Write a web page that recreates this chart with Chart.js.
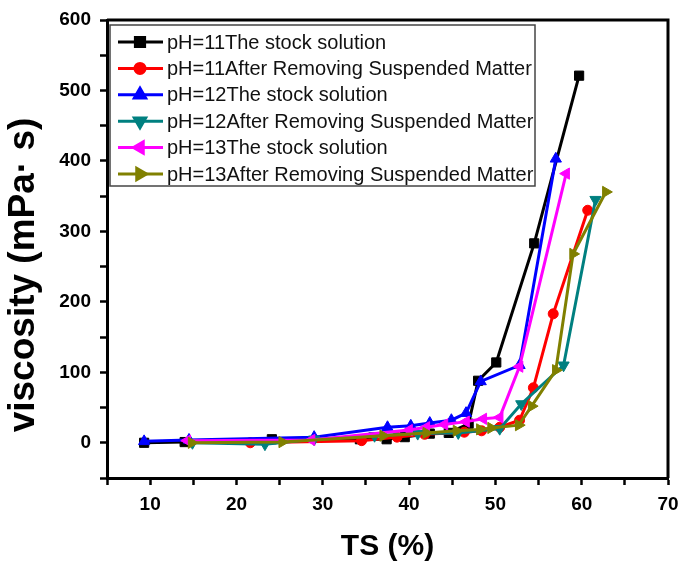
<!DOCTYPE html>
<html lang="en">
<head>
<meta charset="UTF-8">
<title>viscosity vs TS</title>
<script src="https://cdn.jsdelivr.net/npm/chart.js@4.4.9/dist/chart.umd.min.js"></script>
<style>
    body { margin: 0; background: #fff; }
    canvas { display: block; }
</style>
</head>
<body>
<canvas id="grafico" width="678" height="567"></canvas>
<script>
    // TS (%) and viscosity (mPa·s)
    var tsPh11Stock = [9.3, 14.0, 24.1, 34.3, 37.4, 39.5, 42.4, 44.6, 46.9, 48.0, 50.1, 54.5, 59.7]
    var viscPh11Stock = [0, 1, 5, 5, 5, 8, 13, 14, 27, 88, 114, 283, 521]

    var tsPh11Removed = [21.6, 34.5, 38.6, 41.8, 46.4, 48.4, 50.5, 52.8, 54.4, 56.7, 60.7]
    var viscPh11Removed = [0, 3, 8, 12, 15, 17, 22, 32, 78, 183, 330]

    var tsPh12Stock = [9.3, 14.5, 29.0, 37.5, 40.2, 42.4, 44.9, 46.6, 48.3, 52.8, 57.0]
    var viscPh12Stock = [2, 4, 8, 22, 24, 28, 32, 42, 87, 110, 403]

    var tsPh12Removed = [14.9, 23.3, 29.0, 36.0, 41.0, 45.7, 50.5, 53.0, 57.9, 61.6]
    var viscPh12Removed = [0, -2, 5, 10, 13, 14, 20, 55, 110, 345]

    var tsPh13Stock = [14.3, 28.7, 40.0, 42.0, 44.1, 46.6, 48.6, 50.5, 52.8, 58.2]
    var viscPh13Stock = [3, 4, 18, 22, 26, 30, 34, 36, 108, 382]

    var tsPh13Removed = [14.8, 25.3, 37.0, 42.0, 45.5, 48.2, 49.5, 52.7, 54.2, 57.0, 59.0, 62.8]
    var viscPh13Removed = [0, 1, 10, 14, 17, 19, 21, 25, 52, 103, 268, 356]

    var nomesSeries = [
        'pH=11The stock solution',
        'pH=11After Removing Suspended Matter',
        'pH=12The stock solution',
        'pH=12After Removing Suspended Matter',
        'pH=13The stock solution',
        'pH=13After Removing Suspended Matter'
    ]

    var xTicks = [10, 20, 30, 40, 50, 60, 70]
    var yTicks = [0, 100, 200, 300, 400, 500, 600]

    var fonte = 'Arial, "Liberation Sans", sans-serif'

    function juntar(xs, ys) {
        var pontos = []
        for (var i = 0; i < xs.length; i++) {
            pontos.push({ x: xs[i], y: ys[i] })
        }
        return pontos
    }

    function serie(nome, xs, ys, cor, estilo, rotacao, raio, ordem) {
        return {
            label: nome,
            data: juntar(xs, ys),
            borderColor: cor,
            backgroundColor: cor,
            borderWidth: 3,
            pointStyle: estilo,
            pointRotation: rotacao,
            pointRadius: raio,
            pointBorderWidth: 1,
            tension: 0,
            fill: false,
            order: ordem
        }
    }

    // legend drawn inside the plot, like the original
    const legendaInterna = {
        id: 'legendaInterna',
        afterDraw(chart) {
            const ctx = chart.ctx
            const area = chart.chartArea
            const x0 = area.left + 3
            const y0 = area.top + 5
            ctx.save()
            ctx.fillStyle = '#fff'
            ctx.fillRect(x0, y0, 425, 161)
            ctx.strokeStyle = '#444'
            ctx.lineWidth = 1.5
            ctx.strokeRect(x0, y0, 425, 161)
            chart.data.datasets.forEach(function (ds, i) {
                const y = y0 + 17 + i * 26.4
                ctx.strokeStyle = ds.borderColor
                ctx.lineWidth = 3
                ctx.beginPath()
                ctx.moveTo(x0 + 8, y)
                ctx.lineTo(x0 + 53, y)
                ctx.stroke()
                ctx.fillStyle = ds.backgroundColor
                Chart.helpers.drawPoint(ctx, {
                    pointStyle: ds.pointStyle,
                    rotation: ds.pointRotation,
                    radius: ds.pointRadius,
                    borderWidth: 1
                }, x0 + 30, y)
                ctx.fillStyle = '#111'
                ctx.font = '20px ' + fonte
                ctx.textBaseline = 'middle'
                ctx.textAlign = 'left'
                ctx.fillText(ds.label, x0 + 57, y + 1)
            })
            ctx.restore()
        }
    }

    // top and right frame lines plus the y title
    const moldura = {
        id: 'moldura',
        afterDraw(chart) {
            const ctx = chart.ctx
            const area = chart.chartArea
            ctx.save()
            ctx.strokeStyle = '#000'
            ctx.lineWidth = 3
            ctx.beginPath()
            ctx.moveTo(area.left, area.top)
            ctx.lineTo(area.right, area.top)
            ctx.lineTo(area.right, area.bottom)
            ctx.stroke()

            ctx.translate(area.left - 83, (area.top + area.bottom) / 2 + 26)
            ctx.rotate(-Math.PI / 2)
            ctx.fillStyle = '#000'
            ctx.font = 'bold 37px ' + fonte
            ctx.textAlign = 'center'
            ctx.textBaseline = 'middle'
            ctx.fillText('viscosity (mPa· s)', 0, 0)
            ctx.restore()
        }
    }

    const dados = {
        datasets: [
            serie(nomesSeries[0], tsPh11Stock, viscPh11Stock, '#000000', 'rect', 0, 6.5, 6),
            serie(nomesSeries[1], tsPh11Removed, viscPh11Removed, '#ff0000', 'circle', 0, 5, 5),
            serie(nomesSeries[2], tsPh12Stock, viscPh12Stock, '#0000ff', 'triangle', 0, 6.5, 4),
            serie(nomesSeries[3], tsPh12Removed, viscPh12Removed, '#008080', 'triangle', 180, 6.5, 3),
            serie(nomesSeries[4], tsPh13Stock, viscPh13Stock, '#ff00ff', 'triangle', 270, 6.5, 2),
            serie(nomesSeries[5], tsPh13Removed, viscPh13Removed, '#808000', 'triangle', 90, 6.5, 1)
        ]
    }

    const config = {
        type: 'line',
        data: dados,
        options: {
            responsive: false,
            animation: false,
            layout: {
                padding: { left: 0, top: 20, right: 10, bottom: 0 }
            },
            plugins: {
                legend: { display: false },
                tooltip: { enabled: false }
            },
            scales: {
                x: {
                    type: 'linear',
                    min: 5,
                    max: 70,
                    afterFit: function (scale) {
                        scale.height = 89
                        scale.paddingLeft = 0
                        scale.paddingRight = 0
                    },
                    afterBuildTicks: function (scale) {
                        var t = []
                        for (var v = 5; v <= 70; v += 5) t.push({ value: v })
                        scale.ticks = t
                    },
                    ticks: {
                        color: '#000',
                        font: { family: fonte, size: 19, weight: 'bold' },
                        padding: 8,
                        maxRotation: 0,
                        autoSkip: false,
                        callback: function (v) { return xTicks.indexOf(v) >= 0 ? String(v) : '' }
                    },
                    grid: {
                        drawOnChartArea: false,
                        drawTicks: true,
                        tickLength: 7,
                        tickWidth: 2.5,
                        tickColor: '#000'
                    },
                    border: { display: true, color: '#000', width: 3 },
                    title: {
                        display: true,
                        text: 'TS (%)',
                        color: '#000',
                        font: { family: fonte, size: 30, weight: 'bold' },
                        padding: { top: 0, bottom: 2 }
                    }
                },
                y: {
                    type: 'linear',
                    min: -50,
                    max: 600,
                    afterFit: function (scale) {
                        scale.width = 107
                        scale.paddingTop = 0
                        scale.paddingBottom = 0
                    },
                    afterBuildTicks: function (scale) {
                        var t = []
                        for (var v = -50; v <= 600; v += 50) t.push({ value: v })
                        scale.ticks = t
                    },
                    ticks: {
                        color: '#000',
                        font: { family: fonte, size: 19, weight: 'bold' },
                        padding: 9,
                        autoSkip: false,
                        callback: function (v) { return yTicks.indexOf(v) >= 0 ? String(v) : '' }
                    },
                    grid: {
                        drawOnChartArea: false,
                        drawTicks: true,
                        tickLength: 7,
                        tickWidth: 2.5,
                        tickColor: '#000'
                    },
                    border: { display: true, color: '#000', width: 3 }
                }
            }
        },
        plugins: [moldura, legendaInterna]
    }

    let myChart = new Chart(document.getElementById('grafico'), config)
</script>
</body>
</html>
